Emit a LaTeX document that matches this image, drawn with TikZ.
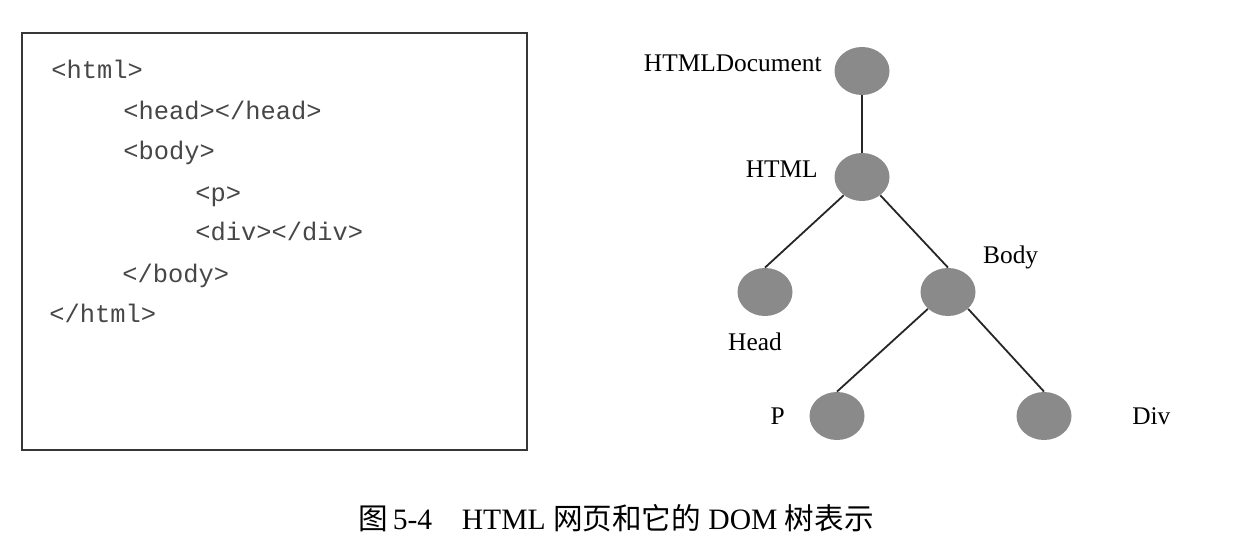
\documentclass[tikz,border=0pt]{standalone}
\usepackage{fontspec}
\setmainfont{Liberation Serif}
\setmonofont{Liberation Mono}
\newfontfamily\cjk{Noto Sans CJK SC}
\usetikzlibrary{shapes.geometric, positioning}
\definecolor{domgray}{RGB}{138,138,138}
\definecolor{framegray}{RGB}{55,55,55}
\tikzset{
  % Source code panel
  codebox/.style={draw=framegray, line width=1pt},
  codeline/.style={anchor=base west, inner sep=0pt,
    font=\ttfamily\fontsize{12.7}{15}\selectfont, text=black!72},
  % DOM tree
  domnode/.style={ellipse, fill=domgray, minimum width=27.5pt, minimum height=24pt, inner sep=0pt},
  domlabel/.style={font=\fontsize{12.7}{15}\selectfont, inner sep=1pt},
  domedge/.style={line width=0.9pt, black!85},
  figcaption/.style={font=\fontsize{14.8}{17}\selectfont}
}

\begin{document}
\begin{tikzpicture}[x=0.5pt, y=-0.5pt]
  \useasboundingbox (0,0) rectangle (1240,545);

  % Code panel
  \draw[codebox] (22,33) rectangle (527,450);
  \node[codeline] (l1) at (51,79)  {<html>};
  \node[codeline] (l2) at (123,120) {<head></head>};
  \node[codeline] (l3) at (123,160) {<body>};
  \node[codeline] (l4) at (195,201) {<p>};
  \node[codeline] (l5) at (195,241) {<div></div>};
  \node[codeline] (l6) at (122,282) {</body>};
  \node[codeline] (l7) at (49,322)  {</html>};

  % Tree nodes
  \node[domnode] (doc)  at (862,71)  {};
  \node[domnode] (html) at (862,177) {};
  \node[domnode] (head) at (765,292) {};
  \node[domnode] (body) at (948,292) {};
  \node[domnode] (p)    at (837,416) {};
  \node[domnode] (div)  at (1044,416) {};

  % Labels
  \node[domlabel, left=5pt of doc, yshift=4pt] (ldoc) {HTMLDocument};
  \node[domlabel, left=7pt of html, yshift=4pt] (lhtml) {HTML};
  \node[domlabel, below=7pt of head, xshift=-5pt] (lhead) {Head};
  \node[domlabel, above right=1.5pt and 6.5pt of body.north east] (lbody) {Body};
  \node[domlabel, left=11pt of p] (lp) {P};
  \node[domlabel, right=29pt of div] (ldiv) {Div};

  % Edges
  \draw[domedge] (doc.south) -- (html.north);
  \draw[domedge] (html.-135) -- (head.north);
  \draw[domedge] (html.-45) -- (body.north);
  \draw[domedge] (body.-140) -- (p.north);
  \draw[domedge] (body.-40) -- (div.north);

  % Caption
  \node[figcaption] (cap) at (616,518)
    {{\cjk 图}\,5-4\quad HTML {\cjk 网页和它的} DOM {\cjk 树表示}};
\end{tikzpicture}
\end{document}
